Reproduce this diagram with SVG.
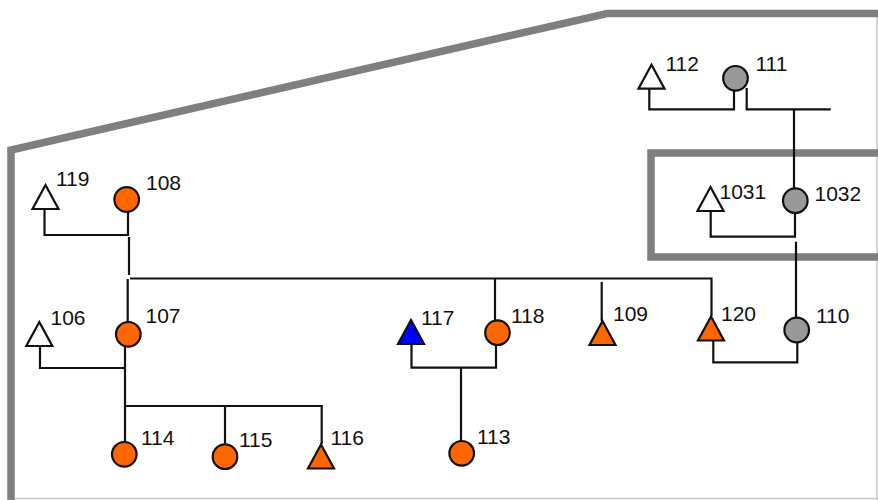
<svg xmlns="http://www.w3.org/2000/svg" xmlns:xlink="http://www.w3.org/1999/xlink" width="878" height="500" viewBox="0 0 878 500">
  <style>
    .frame { fill: none; stroke: #7f7f7f; stroke-width: 7.5; stroke-linejoin: miter; }
    .edge { fill: none; stroke: #c8c8c8; stroke-width: 1.5; }
    .link { fill: none; stroke: #111; stroke-width: 2.2; }
    .node { stroke: #111; stroke-width: 2.2; }
    .white { fill: #ffffff; }
    .orange { fill: #ff6600; }
    .grey { fill: #999999; }
    .blue { fill: #0000ff; }
    .label { font-family: "Liberation Sans", Arial, sans-serif; font-size: 21px; fill: #111; }
  </style>
  <defs>
    <polygon id="tri" points="0,-12 13,12 -13,12"/>
    <circle id="dot" r="12.3"/>
  </defs>

  <rect x="0" y="0" width="878" height="500" fill="#ffffff"/>

  <!-- outer boundary and inner enclosure -->
  <g id="boundary">
    <path class="frame" d="M11,505 V150 L607,13.5 H885"/>
    <line class="edge" x1="877" y1="17" x2="877" y2="500"/>
    <line class="edge" x1="15" y1="498.5" x2="878" y2="498.5"/>
    <path class="frame" d="M885,153 H651 V257 H885"/>
  </g>

  <!-- connectors -->
  <g id="connectors">
    <path class="link" d="M44.5,210 V235 H128 V212"/>
    <path class="link" d="M129,237 V275"/>
    <path class="link" d="M130,278.5 H711.5 V316"/>
    <path class="link" d="M127.7,279 V322"/>
    <path class="link" d="M125,346 V442"/>
    <path class="link" d="M40,346 V368 H125"/>
    <path class="link" d="M125,406 H321.7 V444"/>
    <path class="link" d="M225,405 V444"/>
    <path class="link" d="M495,279 V321"/>
    <path class="link" d="M411.5,344 V367.7 H496 V345"/>
    <path class="link" d="M461,367.7 V442"/>
    <path class="link" d="M601.7,282 V321"/>
    <path class="link" d="M713.3,340 V362.3 H797.3 V342"/>
    <path class="link" d="M796,318 V241.7"/>
    <path class="link" d="M710.7,211 V236.7 H795 V213"/>
    <path class="link" d="M794,188 V109.3"/>
    <path class="link" d="M649.3,89 V109.3 H734 V90"/>
    <path class="link" d="M746.7,88 V109.3 H830.7"/>
  </g>

  <!-- nodes -->
  <g id="n119"><use xlink:href="#tri" class="node white" x="45.5" y="197"/><text class="label" x="56" y="186">119</text></g>
  <g id="n108"><use xlink:href="#dot" class="node orange" x="126.7" y="199.5"/><text class="label" x="146" y="190">108</text></g>
  <g id="n112"><use xlink:href="#tri" class="node white" x="651.5" y="76.7"/><text class="label" x="665.5" y="71">112</text></g>
  <g id="n111"><use xlink:href="#dot" class="node grey" x="735.5" y="78.3"/><text class="label" x="755.5" y="71">111</text></g>
  <g id="n1031"><use xlink:href="#tri" class="node white" x="710.5" y="199"/><text class="label" x="719.5" y="199">1031</text></g>
  <g id="n1032"><use xlink:href="#dot" class="node grey" x="795.3" y="200.7"/><text class="label" x="814.5" y="201">1032</text></g>
  <g id="n106"><use xlink:href="#tri" class="node white" x="39.3" y="334"/><text class="label" x="50.5" y="325">106</text></g>
  <g id="n107"><use xlink:href="#dot" class="node orange" x="128.3" y="334.3"/><text class="label" x="145.5" y="322.7">107</text></g>
  <g id="n117"><use xlink:href="#tri" class="node blue" x="411" y="332"/><text class="label" x="421" y="325">117</text></g>
  <g id="n118"><use xlink:href="#dot" class="node orange" x="497.5" y="332.7"/><text class="label" x="511" y="322.7">118</text></g>
  <g id="n109"><use xlink:href="#tri" class="node orange" x="602.5" y="333"/><text class="label" x="613" y="321">109</text></g>
  <g id="n120"><use xlink:href="#tri" class="node orange" x="711" y="328.5"/><text class="label" x="721" y="321">120</text></g>
  <g id="n110"><use xlink:href="#dot" class="node grey" x="796.7" y="330"/><text class="label" x="816" y="322.7">110</text></g>
  <g id="n114"><use xlink:href="#dot" class="node orange" x="124.3" y="454.3"/><text class="label" x="141" y="445">114</text></g>
  <g id="n115"><use xlink:href="#dot" class="node orange" x="225" y="456.7"/><text class="label" x="239" y="447.3">115</text></g>
  <g id="n116"><use xlink:href="#tri" class="node orange" x="321" y="456.5"/><text class="label" x="330.5" y="445">116</text></g>
  <g id="n113"><use xlink:href="#dot" class="node orange" x="461.7" y="453.3"/><text class="label" x="477" y="444.3">113</text></g>
</svg>
